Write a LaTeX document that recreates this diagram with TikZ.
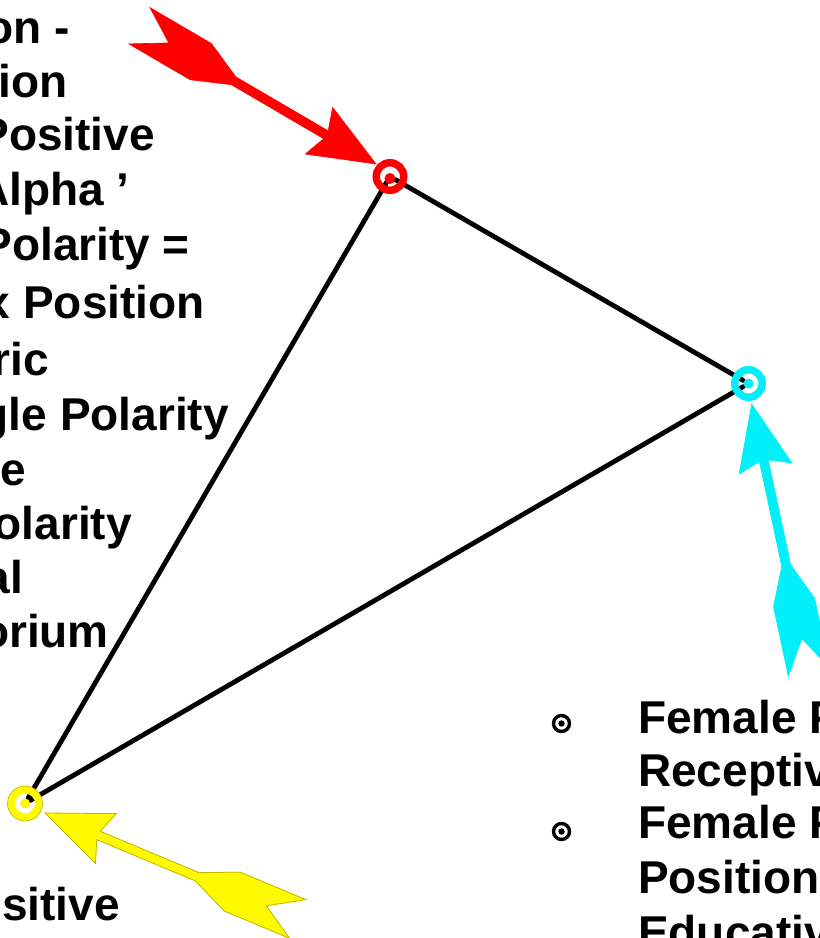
\documentclass[tikz,border=0pt]{standalone}
\usepackage{fontspec}
\setmainfont{Liberation Sans}
\definecolor{arrred}{RGB}{255,0,0}
\definecolor{arrcyan}{RGB}{0,240,250}
\definecolor{arryel}{RGB}{255,250,0}
\definecolor{yelline}{RGB}{190,185,0}
\begin{document}
\begin{tikzpicture}[x=1pt,y=-1pt,
  tri/.style={line width=4.8pt, line cap=round, black},
  hub/.style={circle, inner sep=0pt, minimum size=12pt},
  txt/.style={inner sep=0pt, font=\fontsize{46}{55}\selectfont\bfseries},
  lefttxt/.style={txt, anchor=base east},
  righttxt/.style={txt, anchor=base west},
  bulletring/.style={circle, draw, line width=3.4pt, inner sep=0pt, minimum size=16pt},
  ringmark/.style={line width=7.5pt},
  pics/fancyarrow/.style={code={
    \filldraw[fill=#1, draw=#1, line width=0.6pt, line join=miter]
      (0,0) -- (-66,-27) -- (-58,-4.5) -- (-165,-4.5) -- (-203,-21) -- (-274,-21)
      -- (-240,0) -- (-274,21) -- (-203,21) -- (-165,4.5) -- (-58,4.5) -- (-66,27) -- cycle;
  }}
]
\useasboundingbox (0,0) rectangle (820,938);
\fill[white] (0,0) rectangle (820,938);
\clip (0,0) rectangle (820,938);

% hubs
\node[hub] (R) at (390,176.5) {};
\node[hub] (C) at (748.5,383.5) {};
\node[hub] (Y) at (25,803.5) {};

% triangle
\draw[tri] (R) -- (Y);
\draw[tri] (R) -- (C);
\draw[tri] (C) -- (Y);

% arrows
\pic[rotate=-30.3] at (376,164) {fancyarrow=arrred};
\pic[rotate=102.05] at (751.7,404) {fancyarrow=arrcyan};
\pic[rotate=157.25] at (45,813) {fancyarrow=arryel};
\draw[yelline, line width=0.8pt, line join=miter, rotate around={157.25:(45,813)}, shift={(45,813)}]
  (0,0) -- (-66,-27) -- (-58,-4.5) -- (-165,-4.5) -- (-203,-21) -- (-274,-21)
  -- (-240,0) -- (-274,21) -- (-203,21) -- (-165,4.5) -- (-58,4.5) -- (-66,27) -- cycle;

% target rings
\draw[arrred, ringmark] (R) circle[radius=13.75];
\fill[arrred] ([yshift=-2pt]R.center) circle[radius=5.5];
\draw[arrcyan, ringmark] (C) circle[radius=13.75];
\fill[arrcyan] (C) circle[radius=5];
\draw[arryel, ringmark] (Y) circle[radius=13.75];
\draw[yelline, line width=0.6pt] (Y) circle[radius=17.5];
\fill[arryel] (Y) circle[radius=5];

% left text (cut at the left edge)
\node[lefttxt] (l1) at (70,43) {on -};
\node[lefttxt] (l2) at (68,97) {ion};
\node[lefttxt] (l3) at (155,150) {Positive};
\node[lefttxt] (l4) at (130,205) {Alpha ’};
\node[lefttxt] (l5) at (190,260) {Polarity =};
\node[lefttxt] (l6) at (205,318) {x Position};
\node[lefttxt] (l7) at (49,375) {ric};
\node[lefttxt] (l8) at (229,430) {gle Polarity};
\node[lefttxt] (l9) at (26,485) {e};
\node[lefttxt] (l10) at (132,539) {olarity};
\node[lefttxt] (l11) at (23,593) {al};
\node[lefttxt] (l12) at (109,647) {orium};
\node[lefttxt] (l13) at (120,920) {sitive};

% right list
\node[bulletring] (b1) at (561.5,723.5) {};
\fill (b1) circle[radius=3.2];
\node[bulletring] (b2) at (561.5,831.5) {};
\fill (b2) circle[radius=3.2];
\node[righttxt] (r1) at (638,733) {Female P};
\node[righttxt] (r2) at (638,786) {Receptive};
\node[righttxt] (r3) at (638,838) {Female P};
\node[righttxt] (r4) at (638,893) {Position};
\node[righttxt] (r5) at (638,948) {Educative};
\end{tikzpicture}
\end{document}
